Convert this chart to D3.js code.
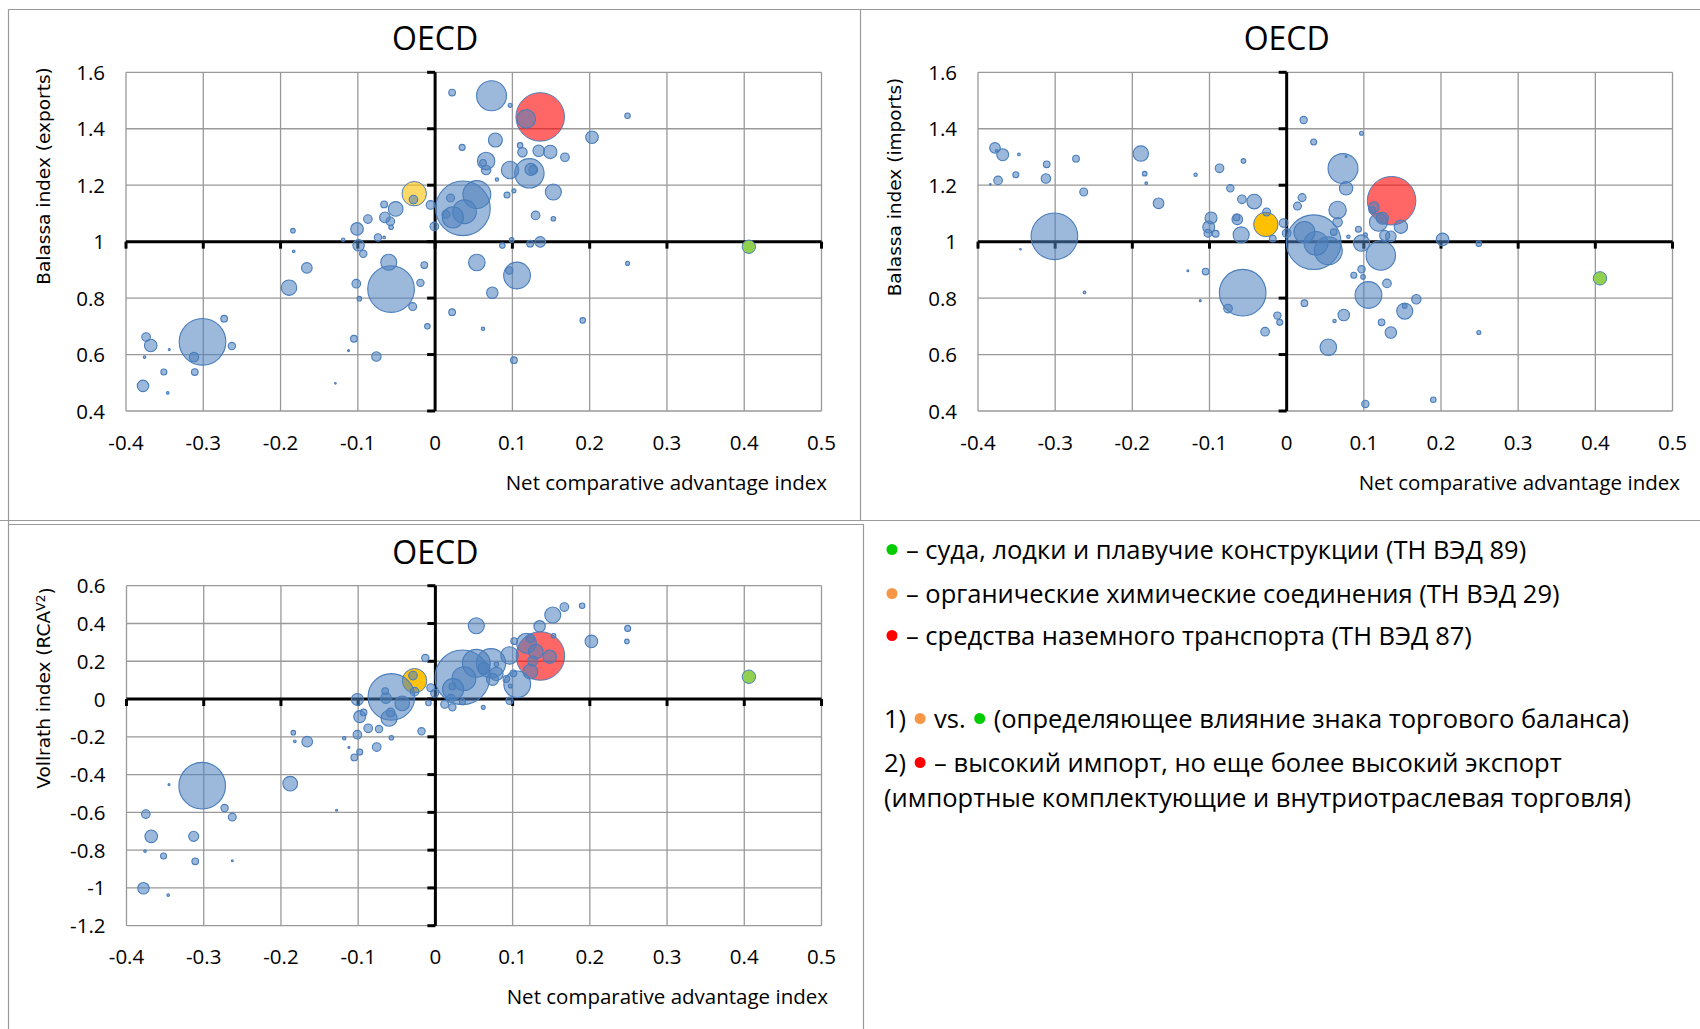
<!DOCTYPE html>
<html>
<head>
<meta charset="utf-8">
<script src="https://cdn.jsdelivr.net/npm/d3@7"></script>
<style>
    body { margin: 0; background: #fff; }
    svg { display: block; }
    text { font-family: 'Open Sans', sans-serif; fill: #000; }
    .ylab { font-family: 'DejaVu Sans', sans-serif; }
</style>
</head>
<body>
<svg id="chart" width="1700" height="1029"></svg>
<script>
// tick values
var xTicks = [-0.4, -0.3, -0.2, -0.1, 0, 0.1, 0.2, 0.3, 0.4, 0.5];
var balassaTicks = [0.4, 0.6, 0.8, 1, 1.2, 1.4, 1.6];
var vollrathTicks = [-1.2, -1, -0.8, -0.6, -0.4, -0.2, 0, 0.2, 0.4, 0.6];

// highlighted sectors: ships (89), organic chemicals (29), land transport (87)
var hlNames = ['ships', 'chem', 'cars'];
var hlX = [0.406, -0.027, 0.136];
var hlSize = [6.0, 20, 79];
var hlExports = [0.982, 1.170, 1.442];
var hlImports = [0.870, 1.061, 1.145];
var hlVollrath = [0.118, 0.097, 0.228];

// other sectors: [net comparative advantage, index, trade volume]
var exportsBlue = [
    [-0.301, 0.645, 73], [-0.374, 0.662, 2.5], [-0.368, 0.632, 5.3], [-0.376, 0.591, 0.23],
    [-0.344, 0.618, 0.13], [-0.351, 0.538, 1.2], [-0.378, 0.489, 4.4], [-0.346, 0.464, 0.23],
    [-0.312, 0.591, 3.0], [-0.311, 0.538, 1.5], [-0.273, 0.727, 1.5], [-0.263, 0.630, 1.8],
    [-0.189, 0.837, 8.0], [-0.166, 0.907, 3.8], [-0.184, 1.039, 0.7], [-0.183, 0.966, 0.23],
    [-0.129, 0.498, 0.07], [-0.119, 1.007, 0.39], [-0.112, 0.614, 0.13], [-0.105, 0.656, 1.5],
    [-0.101, 1.045, 5.3], [-0.099, 0.987, 4.4], [-0.093, 0.957, 1.8], [-0.102, 0.851, 2.5],
    [-0.098, 0.798, 0.7], [-0.076, 0.593, 3.0], [-0.087, 1.080, 2.5], [-0.074, 1.015, 1.8],
    [-0.066, 1.015, 0.23], [-0.066, 1.132, 1.5], [-0.065, 1.086, 3.8], [-0.058, 1.072, 2.5],
    [-0.057, 1.051, 0.7], [-0.057, 0.832, 73], [-0.060, 0.927, 8.6], [-0.051, 1.116, 7.2],
    [-0.028, 1.149, 2.5], [-0.019, 0.854, 1.8], [-0.014, 0.917, 1.5], [-0.029, 0.770, 2.1],
    [-0.010, 0.700, 1.0], [-0.006, 1.130, 2.5], [-0.001, 1.054, 2.5], [0.022, 0.750, 1.5],
    [0.022, 1.528, 1.5], [0.073, 1.517, 30], [0.097, 1.483, 0.54], [0.118, 1.435, 11.6],
    [0.249, 1.446, 1.0], [0.203, 1.370, 5.3], [0.078, 1.360, 6.6], [0.035, 1.334, 1.2],
    [0.110, 1.341, 1.0], [0.113, 1.317, 3.0], [0.134, 1.322, 4.4], [0.149, 1.318, 6.0],
    [0.168, 1.299, 2.5], [0.066, 1.286, 10.2], [0.062, 1.279, 1.5], [0.066, 1.254, 3.0],
    [0.097, 1.254, 10.2], [0.122, 1.242, 29], [0.124, 1.256, 4.8], [0.127, 1.254, 2.5],
    [0.080, 1.220, 0.39], [0.153, 1.176, 8.6], [0.102, 1.180, 0.54], [0.093, 1.165, 1.2],
    [0.130, 1.093, 2.5], [0.153, 1.081, 0.7], [0.036, 1.118, 100], [0.054, 1.167, 26],
    [0.038, 1.106, 19], [0.023, 1.086, 15], [0.020, 1.155, 2.1], [0.014, 1.097, 2.1],
    [0.099, 1.006, 0.7], [0.087, 0.986, 1.0], [0.123, 0.993, 1.5], [0.136, 0.999, 3.8],
    [0.054, 0.926, 9.2], [0.106, 0.880, 24], [0.096, 0.898, 1.8], [0.249, 0.923, 0.54],
    [0.074, 0.819, 4.4], [0.062, 0.691, 0.39], [0.191, 0.721, 1.0], [0.102, 0.580, 1.5]
];

var importsBlue = [
    [-0.378, 1.332, 3.8], [-0.368, 1.308, 4.8], [-0.376, 1.322, 0.23], [-0.347, 1.309, 0.23],
    [-0.374, 1.217, 2.5], [-0.384, 1.203, 0.07], [-0.351, 1.237, 1.2], [-0.311, 1.274, 1.5],
    [-0.312, 1.224, 3.0], [-0.273, 1.294, 1.5], [-0.263, 1.176, 2.1], [-0.301, 1.019, 73],
    [-0.345, 0.973, 0.07], [-0.262, 0.820, 0.23], [-0.189, 1.312, 8.0], [-0.184, 1.241, 0.7],
    [-0.182, 1.207, 0.23], [-0.166, 1.136, 3.8], [-0.118, 1.237, 0.39], [-0.128, 0.897, 0.13],
    [-0.105, 0.894, 1.5], [-0.112, 0.791, 0.13], [-0.098, 1.084, 4.8], [-0.101, 1.052, 4.8],
    [-0.102, 1.030, 2.1], [-0.092, 1.028, 1.5], [-0.087, 1.260, 2.5], [-0.073, 1.189, 1.8],
    [-0.056, 1.286, 0.7], [-0.064, 1.079, 3.8], [-0.065, 1.086, 1.5], [-0.059, 1.024, 8.6],
    [-0.058, 1.150, 2.5], [-0.042, 1.142, 7.2], [-0.026, 1.105, 2.1], [-0.018, 1.011, 1.5],
    [-0.004, 1.066, 2.5], [0.000, 1.030, 2.5], [-0.057, 0.819, 73], [-0.076, 0.763, 2.5],
    [-0.012, 0.738, 1.8], [-0.009, 0.714, 1.2], [-0.028, 0.681, 2.5], [0.022, 1.431, 1.8],
    [0.020, 1.156, 2.1], [0.014, 1.126, 2.1], [0.023, 0.782, 1.5], [0.035, 1.353, 1.2],
    [0.097, 1.384, 0.54], [0.073, 1.259, 30], [0.077, 1.302, 0.13], [0.077, 1.189, 6.0],
    [0.066, 1.112, 10.2], [0.066, 1.069, 3.0], [0.035, 0.998, 100], [0.023, 1.034, 15],
    [0.038, 0.994, 19], [0.054, 0.968, 26], [0.061, 1.034, 1.5], [0.080, 1.017, 0.39],
    [0.093, 1.044, 1.2], [0.097, 0.995, 9.0], [0.102, 1.024, 0.54], [0.113, 1.122, 3.8],
    [0.111, 1.112, 1.5], [0.119, 1.069, 10.9], [0.124, 1.083, 4.8], [0.127, 1.022, 3.4],
    [0.135, 1.019, 3.8], [0.148, 1.053, 6.0], [0.122, 0.951, 29], [0.202, 1.008, 5.3],
    [0.249, 0.993, 1.0], [0.097, 0.902, 1.8], [0.087, 0.881, 1.2], [0.099, 0.875, 0.7],
    [0.130, 0.852, 2.5], [0.106, 0.811, 24], [0.168, 0.796, 3.0], [0.153, 0.754, 8.6],
    [0.153, 0.772, 0.7], [0.074, 0.740, 4.4], [0.062, 0.719, 0.39], [0.123, 0.714, 1.5],
    [0.135, 0.678, 4.4], [0.054, 0.626, 9.2], [0.249, 0.678, 0.54], [0.102, 0.425, 1.8],
    [0.190, 0.440, 1.0]
];

var vollrathBlue = [
    [-0.302, -0.459, 73], [-0.345, -0.453, 0.13], [-0.273, -0.577, 1.8], [-0.263, -0.625, 2.1],
    [-0.375, -0.609, 2.5], [-0.368, -0.727, 5.3], [-0.313, -0.727, 3.4], [-0.376, -0.805, 0.23],
    [-0.352, -0.831, 1.2], [-0.311, -0.859, 1.5], [-0.263, -0.856, 0.13], [-0.378, -1.002, 4.4],
    [-0.346, -1.038, 0.23], [-0.188, -0.448, 7.2], [-0.128, -0.589, 0.13], [-0.184, -0.178, 0.7],
    [-0.182, -0.224, 0.23], [-0.166, -0.226, 3.8], [-0.118, -0.208, 0.39], [-0.112, -0.256, 0.13],
    [-0.105, -0.309, 1.5], [-0.098, -0.281, 1.2], [-0.101, -0.002, 4.8], [-0.098, -0.093, 4.8],
    [-0.093, -0.071, 1.5], [-0.101, -0.189, 2.5], [-0.087, -0.155, 2.5], [-0.073, -0.159, 1.8],
    [-0.076, -0.254, 2.5], [-0.057, -0.205, 0.7], [-0.057, 0.011, 73], [-0.065, 0.042, 1.5],
    [-0.064, 0.005, 3.8], [-0.043, -0.023, 7.2], [-0.058, -0.071, 2.5], [-0.060, -0.102, 8.6],
    [-0.029, 0.124, 2.5], [-0.027, 0.039, 2.5], [-0.013, 0.217, 1.8], [-0.018, -0.171, 1.8],
    [-0.006, 0.060, 2.1], [-0.001, 0.030, 2.1], [-0.009, -0.021, 1.0], [0.053, 0.388, 8.6],
    [0.152, 0.445, 8.6], [0.167, 0.487, 2.5], [0.190, 0.494, 1.0], [0.135, 0.385, 4.4],
    [0.249, 0.374, 1.2], [0.248, 0.305, 0.7], [0.202, 0.305, 5.3], [0.153, 0.335, 0.7],
    [0.118, 0.295, 13.4], [0.123, 0.321, 2.5], [0.130, 0.251, 7.2], [0.148, 0.224, 6.0],
    [0.126, 0.201, 3.4], [0.123, 0.145, 7.2], [0.102, 0.307, 1.5], [0.096, 0.231, 10.2],
    [0.106, 0.078, 24], [0.101, 0.136, 1.5], [0.097, 0.069, 0.54], [0.096, -0.009, 1.8],
    [0.035, 0.115, 100], [0.053, 0.189, 26], [0.072, 0.189, 29], [0.037, 0.108, 19],
    [0.023, 0.052, 15], [0.063, 0.162, 4.8], [0.079, 0.133, 6.0], [0.074, 0.104, 4.8],
    [0.079, 0.184, 0.7], [0.092, 0.106, 1.5], [0.022, 0.067, 1.5], [0.020, 0.002, 2.5],
    [0.012, -0.028, 2.1], [0.022, -0.044, 1.8], [0.035, -0.014, 1.2], [0.062, -0.044, 0.54]
];

var svg = d3.select('#chart');

var blue = '#4f81bd',
    edge = '#4a7ebb';

// bubble area ~ trade volume
var rScale = d3.scaleSqrt().domain([0, 100]).range([0, 27.3]);

var panels = [
    { blue: exportsBlue, hy: hlExports, yTicks: balassaTicks, yDomain: [0.4, 1.6], axisAt: 1,
      left: 126, right: 821.5, top: 72.3, bottom: 411, titleY: 50,
      ylabel: 'Balassa index (exports)', ylabX: 44, ylabY: 176, xTitleX: 827, xTitleY: 490,
      chemOpacity: 0.6 },
    { blue: importsBlue, hy: hlImports, yTicks: balassaTicks, yDomain: [0.4, 1.6], axisAt: 1,
      left: 978, right: 1672.5, top: 72.3, bottom: 411, titleY: 50,
      ylabel: 'Balassa index (imports)', ylabX: 895, ylabY: 187, xTitleX: 1680, xTitleY: 490,
      chemOpacity: 1 },
    { blue: vollrathBlue, hy: hlVollrath, yTicks: vollrathTicks, yDomain: [-1.2, 0.6], axisAt: 0,
      left: 126.5, right: 821.5, top: 585.7, bottom: 925.7, titleY: 564,
      ylabel: 'Vollrath index (RCA', ylabX: 44, ylabY: 688, xTitleX: 828, xTitleY: 1004,
      chemOpacity: 0.95, sup: 'V2' }
];

// panel frames
var frame = svg.append('g')
    .attr('stroke', '#9a9a9a')
    .attr('stroke-width', 1.2)
    .attr('fill', 'none');
frame.append('path').attr('d', 'M8.5,1029 V9.5 H1700');
frame.append('path').attr('d', 'M860.5,9.5 V520.5');
frame.append('path').attr('d', 'M0,520.5 H1700');
frame.append('path').attr('d', 'M8.5,524.5 H863.5 V1029');

panels.forEach(function(p) {
    var x = d3.scaleLinear().domain([-0.4, 0.5]).range([p.left, p.right]);
    var y = d3.scaleLinear().domain(p.yDomain).range([p.bottom, p.top]);
    var g = svg.append('g');

    // grid
    g.append('g').selectAll('line')
        .data(xTicks).enter().append('line')
        .attr('x1', function(d) { return x(d); })
        .attr('x2', function(d) { return x(d); })
        .attr('y1', p.top).attr('y2', p.bottom)
        .attr('stroke', '#999').attr('stroke-width', 1.3);
    g.append('g').selectAll('line')
        .data(p.yTicks).enter().append('line')
        .attr('y1', function(d) { return y(d); })
        .attr('y2', function(d) { return y(d); })
        .attr('x1', p.left).attr('x2', p.right)
        .attr('stroke', '#999').attr('stroke-width', 1.3);

    // black axes crossing at (0, axisAt) with small ticks
    var ax = g.append('g').attr('stroke', '#000').attr('stroke-width', 3);
    ax.append('line')
        .attr('x1', p.left).attr('x2', p.right)
        .attr('y1', y(p.axisAt)).attr('y2', y(p.axisAt));
    ax.append('line')
        .attr('x1', x(0)).attr('x2', x(0))
        .attr('y1', p.top).attr('y2', p.bottom);
    ax.selectAll('.xt')
        .data(xTicks).enter().append('line')
        .attr('x1', function(d) { return x(d); })
        .attr('x2', function(d) { return x(d); })
        .attr('y1', y(p.axisAt)).attr('y2', y(p.axisAt) + 7);
    ax.selectAll('.yt')
        .data(p.yTicks).enter().append('line')
        .attr('y1', function(d) { return y(d); })
        .attr('y2', function(d) { return y(d); })
        .attr('x1', x(0) - 8).attr('x2', x(0));

    // tick labels sit at the plot edges
    var fmt = function(d) { return String(+d.toFixed(1)); };
    g.append('g').selectAll('text')
        .data(xTicks).enter().append('text')
        .attr('x', function(d) { return x(d); })
        .attr('y', p.bottom + 38.5)
        .attr('text-anchor', 'middle')
        .style('font-size', '20.5px')
        .text(fmt);
    g.append('g').selectAll('text')
        .data(p.yTicks).enter().append('text')
        .attr('x', p.left - 21)
        .attr('y', function(d) { return y(d) + 7.5; })
        .attr('text-anchor', 'end')
        .style('font-size', '20.5px')
        .text(fmt);

    // titles
    g.append('text')
        .attr('x', x(0))
        .attr('y', p.titleY)
        .attr('text-anchor', 'middle')
        .style('font-size', '32px')
        .text('OECD');
    g.append('text')
        .attr('x', p.xTitleX)
        .attr('y', p.xTitleY)
        .attr('text-anchor', 'end')
        .style('font-size', '20.5px')
        .text('Net comparative advantage index');
    var yl = g.append('text')
        .attr('class', 'ylab')
        .attr('transform', 'translate(' + p.ylabX + ',' + p.ylabY + ') rotate(-90)')
        .attr('text-anchor', 'middle')
        .attr('dy', '0.35em')
        .style('font-size', '18.5px')
        .text(p.ylabel);
    if (p.sup) {
        yl.append('tspan').attr('dy', '-0.4em').style('font-size', '12.5px').text(p.sup);
        yl.append('tspan').attr('dy', '0.4em').text(')');
    }

    // bubbles: red and orange first, blue over them, green on top
    var hl = hlNames.map(function(n, i) { return { name: n, x: hlX[i], y: p.hy[i], v: hlSize[i] }; });
    var fills = { ships: '#92d050', chem: '#ffc000', cars: '#ff0000' };
    var ops = { ships: 1, chem: p.chemOpacity, cars: 0.6 };

    var bub = g.append('g');
    bub.selectAll('.hl')
        .data(hl.filter(function(d) { return d.name !== 'ships'; }))
        .enter().append('circle')
        .attr('cx', function(d) { return x(d.x); })
        .attr('cy', function(d) { return y(d.y); })
        .attr('r', function(d) { return rScale(d.v); })
        .attr('fill', function(d) { return fills[d.name]; })
        .attr('fill-opacity', function(d) { return ops[d.name]; })
        .attr('stroke', edge).attr('stroke-width', 1);

    var blues = p.blue.slice().sort(function(a, b) { return b[2] - a[2]; });
    bub.selectAll('.b')
        .data(blues).enter().append('circle')
        .attr('cx', function(d) { return x(d[0]); })
        .attr('cy', function(d) { return y(d[1]); })
        .attr('r', function(d) { return Math.max(0.8, rScale(d[2])); })
        .attr('fill', blue).attr('fill-opacity', 0.56)
        .attr('stroke', edge).attr('stroke-width', 1.1);

    bub.selectAll('.gr')
        .data(hl.filter(function(d) { return d.name === 'ships'; }))
        .enter().append('circle')
        .attr('cx', function(d) { return x(d.x); })
        .attr('cy', function(d) { return y(d.y); })
        .attr('r', function(d) { return rScale(d.v); })
        .attr('fill', fills.ships)
        .attr('stroke', edge).attr('stroke-width', 1);
});

// notes panel
var dotColors = { g: '#00cc00', o: '#f79646', r: '#ff0000' };
var notes = [
    { y: 559, parts: [{ dot: 'g' }, { t: '– суда, лодки и плавучие конструкции (ТН ВЭД 89)' }] },
    { y: 603, parts: [{ dot: 'o' }, { t: '– органические химические соединения (ТН ВЭД 29)' }] },
    { y: 645, parts: [{ dot: 'r' }, { t: '– средства наземного транспорта (ТН ВЭД 87)' }] },
    { y: 728, parts: [{ t: '1)' }, { dot: 'o' }, { t: 'vs.' }, { dot: 'g' },
        { t: '(определяющее влияние знака торгового баланса)' }] },
    { y: 772, parts: [{ t: '2)' }, { dot: 'r' }, { t: '– высокий импорт, но еще более высокий экспорт' }] },
    { y: 807, parts: [{ t: '(импортные комплектующие и внутриотраслевая торговля)' }] }
];

var ng = svg.append('g');
notes.forEach(function(line) {
    var cx = 884;
    line.parts.forEach(function(part, i) {
        if (part.dot) {
            var c = cx + (i === 0 ? 8 : 14);
            ng.append('circle')
                .attr('cx', c).attr('cy', line.y - 9.5).attr('r', 5.5)
                .attr('fill', dotColors[part.dot]);
            cx = c + 14;
        } else {
            var t = ng.append('text')
                .attr('x', cx).attr('y', line.y)
                .style('font-size', '25.5px')
                .text(part.t);
            cx += t.node().getComputedTextLength();
        }
    });
});
</script>
</body>
</html>
